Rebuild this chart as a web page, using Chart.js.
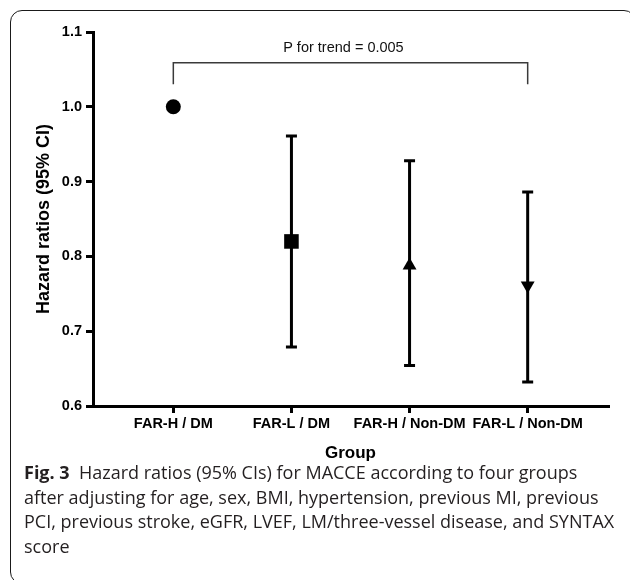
<!DOCTYPE html>
<html lang="en">
  <head>
    <meta charset="UTF-8" />
    <title>Hazard ratios by group</title>
    <script src="https://cdn.jsdelivr.net/npm/chart.js@4.4.1/dist/chart.umd.min.js"></script>
    <style>
      body {
        margin: 0;
        width: 630px;
        height: 580px;
        overflow: hidden;
        background: #fff;
        position: relative;
      }

      .frame {
        position: absolute;
        left: 10px;
        top: 10px;
        width: 626px;
        height: 574px;
        border: 1.5px solid #1a1a1a;
        border-radius: 12px;
        box-sizing: border-box;
      }

      .chart-box {
        position: absolute;
        left: 0;
        top: 0;
        width: 630px;
        height: 470px;
      }

      .caption {
        position: absolute;
        left: 24px;
        top: 460px;
        font-family: "Open Sans", sans-serif;
        font-size: 18px;
        line-height: 24.5px;
        color: #231f20;
        white-space: nowrap;
      }
    </style>
  </head>
  <body>
    <div class="frame"></div>
    <div class="chart-box"><canvas id="hrChart"></canvas></div>
    <div class="caption">
      <b>Fig. 3</b>&nbsp; Hazard ratios (95% CIs) for MACCE according to four groups<br />
      after adjusting for age, sex, BMI, hypertension, previous MI, previous<br />
      PCI, previous stroke, eGFR, LVEF, LM/three-vessel disease, and SYNTAX<br />
      score
    </div>

    <script>
      // data
      const groups = ["FAR-H / DM", "FAR-L / DM", "FAR-H / Non-DM", "FAR-L / Non-DM"];
      const hazardRatio = [1.0, 0.82, 0.788, 0.761];
      const ciLower = [null, 0.679, 0.654, 0.632];
      const ciUpper = [null, 0.961, 0.928, 0.886];
      const yTicks = [0.6, 0.7, 0.8, 0.9, 1.0, 1.1];
      const markerStyles = ["circle", "rect", "triangle", "triangle"];
      const trendLabel = "P for trend = 0.005";
      const bracketY = [1.03, 1.059];

      const positions = groups.map((_, i) => i + 1);
      const font = "'Liberation Sans', Arial, sans-serif";

      // vertical CI bars with caps
      const errorBars = {
        id: "errorBars",
        beforeDatasetsDraw(chart) {
          const { ctx, scales: { x, y } } = chart;
          ctx.save();
          ctx.strokeStyle = "#000";
          ctx.lineWidth = 3;
          positions.forEach((p, i) => {
            if (ciLower[i] == null) return;
            const px = x.getPixelForValue(p);
            const top = y.getPixelForValue(ciUpper[i]);
            const bot = y.getPixelForValue(ciLower[i]);
            ctx.beginPath();
            ctx.moveTo(px, top);
            ctx.lineTo(px, bot);
            ctx.moveTo(px - 5.5, top);
            ctx.lineTo(px + 5.5, top);
            ctx.moveTo(px - 5.5, bot);
            ctx.lineTo(px + 5.5, bot);
            ctx.stroke();
          });
          ctx.restore();
        },
      };

      const trendText = {
        id: "trendText",
        afterDatasetsDraw(chart) {
          const { ctx, scales: { x, y } } = chart;
          ctx.save();
          ctx.font = "14.5px " + font;
          ctx.fillStyle = "#111";
          ctx.textAlign = "center";
          ctx.textBaseline = "middle";
          ctx.fillText(trendLabel, x.getPixelForValue(2.44), y.getPixelForValue(1.078));
          ctx.restore();
        },
      };

      const ctx = document.getElementById("hrChart").getContext("2d");

      new Chart(ctx, {
        type: "scatter",
        data: {
          datasets: [
            {
              // trend bracket
              showLine: true,
              data: [
                { x: positions[0], y: bracketY[0] },
                { x: positions[0], y: bracketY[1] },
                { x: positions[3], y: bracketY[1] },
                { x: positions[3], y: bracketY[0] },
              ],
              borderColor: "#3a3a3a",
              borderWidth: 1.5,
              pointRadius: 0,
            },
            {
              data: positions.map((p, i) => ({ x: p, y: hazardRatio[i] })),
              pointStyle: markerStyles,
              pointRadius: [7.5, 10.3, 8, 8],
              pointRotation: [0, 0, 0, 180],
              backgroundColor: "#000",
              borderColor: "#000",
              borderWidth: 0,
            },
          ],
        },
        options: {
          responsive: true,
          maintainAspectRatio: false,
          animation: false,
          layout: { padding: { top: 32, right: 22, left: 0, bottom: 0 } },
          plugins: { legend: { display: false }, tooltip: { enabled: false } },
          scales: {
            x: {
              type: "linear",
              min: 0.32,
              max: 4.68,
              afterBuildTicks: (s) => {
                s.ticks = positions.map((v) => ({ value: v }));
              },
              afterFit: (s) => {
                s.height = 64;
              },
              ticks: {
                callback: (v) => groups[v - 1],
                font: { family: font, weight: "bold", size: 14.5 },
                color: "#000",
                padding: 2,
                maxRotation: 0,
                autoSkip: false,
              },
              grid: { drawOnChartArea: false, tickLength: 7, color: "#000", lineWidth: 3 },
              border: { color: "#000", width: 3 },
              title: {
                display: true,
                text: "Group",
                font: { family: font, weight: "bold", size: 17 },
                color: "#000",
                padding: { top: 4, bottom: 6 },
              },
            },
            y: {
              min: 0.6,
              max: 1.1,
              afterBuildTicks: (s) => {
                s.ticks = yTicks.map((v) => ({ value: v }));
              },
              afterFit: (s) => {
                s.width = 93;
              },
              ticks: {
                callback: (v) => v.toFixed(1),
                font: { family: font, weight: "bold", size: 14.5 },
                color: "#000",
                padding: 4,
              },
              grid: { drawOnChartArea: false, tickLength: 7, color: "#000", lineWidth: 3 },
              border: { color: "#000", width: 3 },
              title: {
                display: true,
                text: "Hazard ratios (95% CI)",
                font: { family: font, weight: "bold", size: 18 },
                color: "#000",
                padding: { top: 33 },
              },
            },
          },
        },
        plugins: [errorBars, trendText],
      });
    </script>
  </body>
</html>
